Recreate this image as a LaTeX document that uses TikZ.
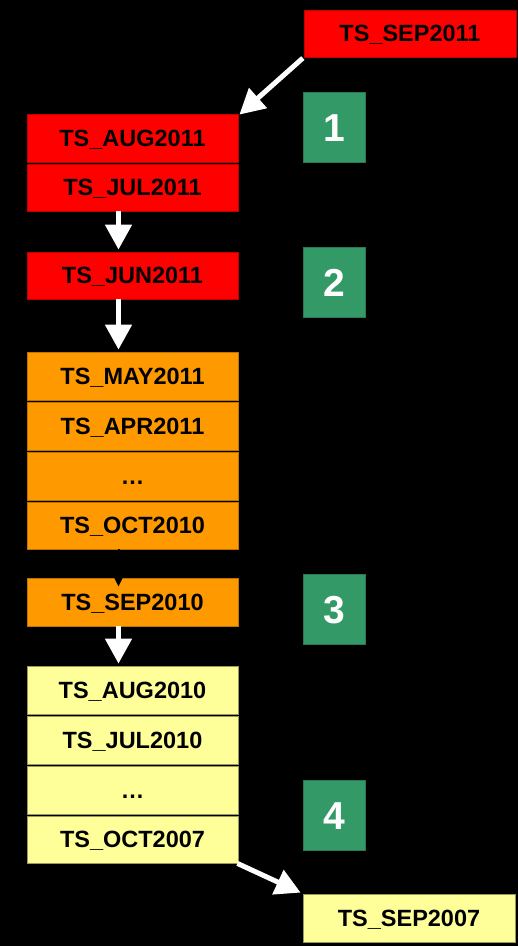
\documentclass[tikz,border=0pt]{standalone}
\usepackage{fontspec}
\setmainfont{Liberation Sans}
\usetikzlibrary{arrows.meta}
\definecolor{boxred}{HTML}{FF0000}
\definecolor{boxorange}{HTML}{FF9900}
\definecolor{boxyellow}{HTML}{FFFF99}
\definecolor{stepgreen}{HTML}{339966}
\begin{document}
\begin{tikzpicture}[x=1pt,y=-1pt,
  month/.style={minimum width=211pt,inner sep=0pt,line width=0.8pt,
    text height=16pt,text depth=0pt,
    font=\fontsize{23.5}{28}\selectfont\bfseries,text=black},
  redbox/.style={month,fill=boxred,draw=boxred!75!black},
  orangebox/.style={month,fill=boxorange,draw=boxorange!75!black},
  yellowbox/.style={month,fill=boxyellow,draw=boxyellow!60!black},
  stepnum/.style={fill=stepgreen,draw=stepgreen!80!black,line width=0.8pt,
    minimum width=62pt,minimum height=70pt,inner sep=0pt,text=white,
    text height=28pt,text depth=0pt,
    font=\fontsize{39}{44}\selectfont\bfseries},
  flow/.style={draw=white,line width=5pt,-{Triangle[width=26pt,length=25pt]}},
  hidden/.style={draw=black,line width=2pt,-{Triangle[width=8pt,length=9pt]}}]

% background and page size
\fill[black] (0,0) rectangle (518,946);
\useasboundingbox (0,0) rectangle (518,946);

% incoming and outgoing months
\node[redbox,minimum width=212pt,minimum height=47pt] (sep11) at (410,33.5) {TS\_SEP2011};
\node[yellowbox,minimum width=212pt,minimum height=48pt] (sep07) at (409,918) {TS\_SEP2007};

% red group
\node[redbox,minimum height=48pt] (aug11) at (132.5,138) {TS\_AUG2011};
\node[redbox,minimum height=47pt] (jul11) at (132.5,187.5) {TS\_JUL2011};
\node[redbox,minimum height=47pt] (jun11) at (132.5,275.5) {TS\_JUN2011};

% orange group
\node[orangebox,minimum height=48pt] (may11) at (132.5,376) {TS\_MAY2011};
\node[orangebox,minimum height=48pt] (apr11) at (132.5,426) {TS\_APR2011};
\node[orangebox,minimum height=48pt] (dotsa) at (132.5,476) {…};
\node[orangebox,minimum height=47pt] (oct10) at (132.5,525.5) {TS\_OCT2010};
\node[orangebox,minimum height=48pt] (sep10) at (132.5,602) {TS\_SEP2010};

% yellow group
\node[yellowbox,minimum height=48pt] (aug10) at (132.5,690) {TS\_AUG2010};
\node[yellowbox,minimum height=48pt] (jul10) at (132.5,740) {TS\_JUL2010};
\node[yellowbox,minimum height=48pt] (dotsb) at (132.5,790) {…};
\node[yellowbox,minimum height=47pt] (oct07) at (132.5,839.5) {TS\_OCT2007};

% step numbers
\node[stepnum] (s1) at (334.5,127) {1};
\node[stepnum] (s2) at (334.5,282) {2};
\node[stepnum] (s3) at (334.5,609) {3};
\node[stepnum] (s4) at (334.5,815) {4};

% connectors
\coordinate (sepin) at ([yshift=-9pt,xshift=-14pt]sep10.north);
\draw[hidden] ([xshift=-14pt]oct10.south) -- (sepin);
\draw[flow,shorten <=1pt] (sep11.south west) -- ([xshift=1pt,yshift=-1pt]aug11.north east);
\draw[flow] ([xshift=-14pt]jul11.south) -- ([xshift=-14pt,yshift=2pt]jun11.north);
\draw[flow] ([xshift=-14pt]jun11.south) -- ([xshift=-14pt,yshift=2pt]may11.north);
\draw[flow] ([xshift=-14pt]sep10.south) -- ([xshift=-14pt,yshift=2pt]aug10.north);
\draw[flow] ([xshift=-1pt]oct07.south east) -- ([xshift=-2pt,yshift=1pt]sep07.north west);
\end{tikzpicture}
\end{document}
